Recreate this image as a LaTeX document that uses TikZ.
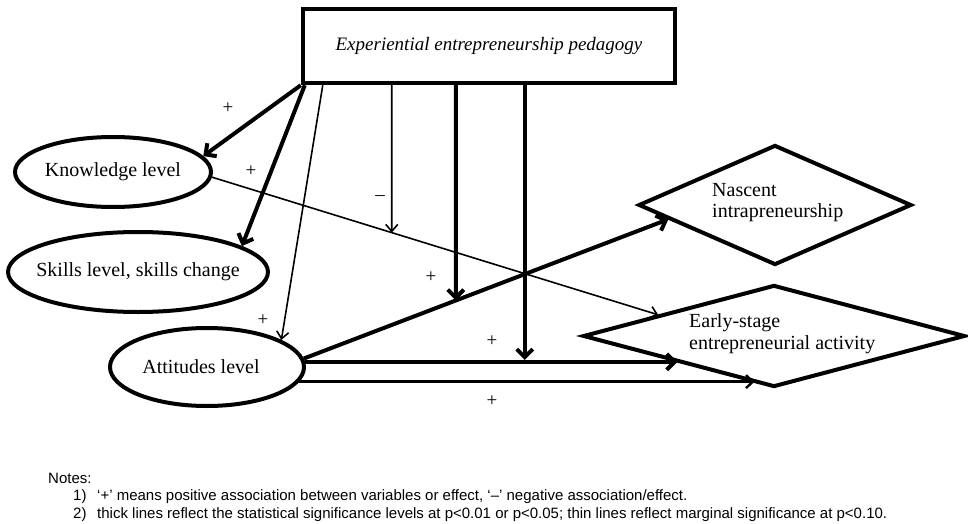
\documentclass[tikz,border=0pt]{standalone}
\usepackage{fontspec}
\setmainfont{Liberation Serif}
\newfontfamily\notesfont{Liberation Sans}
\usetikzlibrary{shapes.geometric,arrows.meta,calc}
\begin{document}
\begin{tikzpicture}[x=1pt,y=-1pt,
  ell/.style={draw, ellipse, line width=4pt, inner sep=0pt},
  dia/.style={draw, diamond, line width=4pt, inner sep=0pt},
  thickarr/.style={line width=4pt, -{Straight Barb[length=8pt,width=16pt]}},
  thinarr/.style={line width=1.6pt, -{Straight Barb[length=7pt,width=12pt]}},
  midarr/.style={line width=2.4pt, -{Straight Barb[length=7pt,width=13pt]}},
  lbl/.style={font=\fontsize{20}{24}\selectfont, inner sep=0pt},
  sign/.style={font=\fontsize{19}{20}\selectfont, inner sep=0pt},
  notes/.style={font=\notesfont\fontsize{15}{18}\selectfont, inner sep=0pt, anchor=west},
]
\useasboundingbox (0,0) rectangle (968,524);
\fill[white] (0,0) rectangle (968,524);

% top box
\node[draw, line width=4.5pt, minimum width=372pt, minimum height=74pt, inner sep=0pt,
      font=\fontsize{19}{22}\selectfont\itshape] (ped) at (489,46) {Experiential entrepreneurship pedagogy};

% ellipses
\node[ell, minimum width=196pt, minimum height=70pt, label={[lbl]center:{Knowledge level}}] (kn) at (113,172) {};
\node[ell, minimum width=260pt, minimum height=80pt, label={[lbl]center:{Skills level, skills change}}] (sk) at (138,272) {};
\node[ell, minimum width=194pt, minimum height=78pt, label={[lbl, xshift=-6pt]center:{Attitudes level}}] (att) at (207,367) {};

% diamonds
\node[dia, minimum width=273pt, minimum height=120pt] (nasc) at (775,205) {};
\node[dia, minimum width=382pt, minimum height=102pt] (early) at (774,336) {};
\node[lbl, anchor=west, align=left, font=\fontsize{20}{21}\selectfont] (nasctext) at (712,203) {Nascent\\intrapreneurship};
\node[lbl, anchor=west, align=left, font=\fontsize{20}{22}\selectfont] (earlytext) at (689,334) {Early-stage\\entrepreneurial activity};

% helper coordinates
\coordinate (nascIn) at ($(nasc.west)!0.23!(nasc.south)$);
\coordinate (earlyKn) at ($(early.west)!0.4!(early.north)$);
\coordinate (earlyA) at ($(early.west)!0.5!(early.south)$);
\coordinate (earlyB) at ($(early.west)!0.9!(early.south)$);
\coordinate (knOut) at (kn.-3);
\coordinate (attN) at (att.5);
\coordinate (attE) at (att.3.3);
\coordinate (attB) at (att.-9.5);
\coordinate (attEend) at (attE -| earlyA);
\coordinate (v1) at ([xshift=91pt]ped.south west);
\coordinate (v2) at ([xshift=155pt]ped.south west);
\coordinate (v3) at ([xshift=224pt]ped.south west);
\coordinate (v1b) at ([yshift=-400pt]v1);
\coordinate (v2b) at ([yshift=-400pt]v2);
\coordinate (v3b) at ([yshift=-400pt]v3);

% arrows from pedagogy
\draw[thickarr] (ped.south west) -- (kn.10);
\draw[thickarr] ([xshift=4pt]ped.south west) -- (sk.14);
\draw[thinarr] ([xshift=22pt]ped.south west) -- (att.20);

% mediation arrows
\draw[thinarr] (knOut) -- (earlyKn);
\draw[thickarr] (attN) -- (nascIn);
\draw[thickarr] (attE) -- (attEend);
\draw[midarr] (attB) -- (attB -| earlyB);

% moderating vertical arrows
\draw[thinarr] (v1) -- (intersection of v1--v1b and knOut--earlyKn);
\draw[thickarr] (v2) -- (intersection of v2--v2b and attN--nascIn);
\draw[thickarr, shorten >=2pt] (v3) -- (intersection of v3--v3b and attE--attEend);

% signs
\node[sign] (s1) at (228,108) {+};
\node[sign] (s2) at (251,171) {+};
\node[sign] (s3) at (263,320) {+};
\node[sign] (s4) at (380,198) {–};
\node[sign] (s5) at (431,277) {+};
\node[sign] (s6) at (492,341) {+};
\node[sign] (s7) at (492,401) {+};

% notes
\node[notes] (notes) at (48,478) {Notes:};
\node[notes] (n1num) at (73,497) {1)};
\node[notes] (n1) at (97,497) {‘+’ means positive association between variables or effect, ‘–’ negative association/effect.};
\node[notes] (n2num) at (73,515) {2)};
\node[notes] (n2) at (97,515) {thick lines reflect the statistical significance levels at p<0.01 or p<0.05; thin lines reflect marginal significance at p<0.10.};
\end{tikzpicture}
\end{document}
